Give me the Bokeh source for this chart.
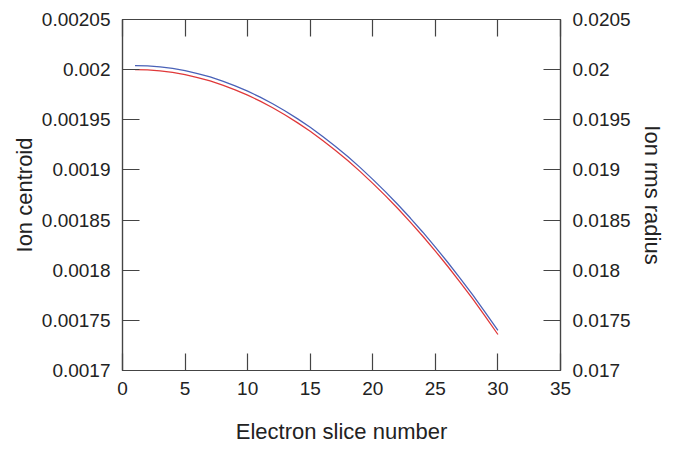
from bokeh.plotting import figure
from bokeh.models import Range1d, LinearAxis, FixedTicker, CustomJSTickFormatter, CustomLabelingPolicy
from bokeh.embed import file_html
from bokeh.resources import INLINE

slice_num = list(range(1, 31))
ion_centroid = [0.0020000, 0.0019997, 0.0019987, 0.0019972, 0.0019950, 0.0019921,
                0.0019887, 0.0019846, 0.0019799, 0.0019746, 0.0019686, 0.0019620,
                0.0019548, 0.0019469, 0.0019385, 0.0019293, 0.0019196, 0.0019093,
                0.0018983, 0.0018866, 0.0018744, 0.0018615, 0.0018480, 0.0018339,
                0.0018191, 0.0018037, 0.0017877, 0.0017711, 0.0017538, 0.0017359]
ion_rms = [0.020040, 0.020037, 0.020027, 0.020012, 0.019990, 0.019961,
           0.019927, 0.019886, 0.019839, 0.019786, 0.019726, 0.019660,
           0.019588, 0.019509, 0.019425, 0.019333, 0.019236, 0.019133,
           0.019023, 0.018906, 0.018784, 0.018655, 0.018520, 0.018379,
           0.018231, 0.018077, 0.017917, 0.017751, 0.017578, 0.017400]

x_ticks = [0, 5, 10, 15, 20, 25, 30, 35]
left_ticks = [0.0017, 0.00175, 0.0018, 0.00185, 0.0019, 0.00195, 0.002, 0.00205]
right_ticks = [0.017, 0.0175, 0.018, 0.0185, 0.019, 0.0195, 0.02, 0.0205]

AX = "#444444"
FONT = "Liberation Sans"
TICK_SIZE = "19px"
LABEL_SIZE = "22px"

p = figure(width=688, height=449, output_backend="svg", toolbar_location=None,
           x_range=Range1d(0, 35), y_range=Range1d(0.0017, 0.00205),
           min_border_left=122, min_border_right=128, min_border_top=19,
           min_border_bottom=79, x_axis_label="Electron slice number",
           y_axis_label="Ion centroid")
p.extra_y_ranges = {"rms": Range1d(0.017, 0.0205)}
p.grid.visible = False
p.outline_line_color = AX
p.outline_line_width = 1.2
p.background_fill_color = "white"
p.border_fill_color = "white"

fmt = CustomJSTickFormatter(code="return Number(tick.toPrecision(6)).toString();")

def style(ax):
    ax.axis_line_color = AX
    ax.axis_line_width = 1.2
    ax.major_tick_line_color = AX
    ax.major_tick_line_width = 1.2
    ax.major_tick_in = 17
    ax.major_tick_out = 0
    ax.minor_tick_line_color = None
    ax.major_label_text_font = FONT
    ax.major_label_text_font_size = TICK_SIZE
    ax.major_label_text_color = "#222222"
    ax.axis_label_text_font = FONT
    ax.axis_label_text_font_style = "normal"
    ax.axis_label_text_font_size = LABEL_SIZE
    ax.axis_label_text_color = "#222222"

xa = p.xaxis[0]
xa.ticker = FixedTicker(ticks=x_ticks)
style(xa)
xa.major_label_standoff = 11
xa.axis_label_standoff = 21

ya = p.yaxis[0]
ya.ticker = FixedTicker(ticks=left_ticks)
ya.formatter = fmt
style(ya)
ya.major_label_standoff = 12
ya.axis_label_standoff = 2

ra = LinearAxis(y_range_name="rms", axis_label="Ion rms radius",
                ticker=FixedTicker(ticks=right_ticks), formatter=fmt)
style(ra)
ra.major_label_standoff = 12
ra.axis_label_standoff = 6
p.add_layout(ra, "right")

ta = LinearAxis(ticker=FixedTicker(ticks=x_ticks))
style(ta)
ta.major_label_standoff = 0
ta.major_label_text_font_size = "0px"
ta.major_label_policy = CustomLabelingPolicy(
    code="for (const i of Array.from(indices)) { indices.unset(i) }")
p.add_layout(ta, "above")

p.line(slice_num, ion_centroid, line_color="#e0393a", line_width=1.3)
p.line(slice_num, ion_rms, line_color="#4a62b8", line_width=1.3, y_range_name="rms")

open("out.html", "w").write(file_html(p, INLINE))
